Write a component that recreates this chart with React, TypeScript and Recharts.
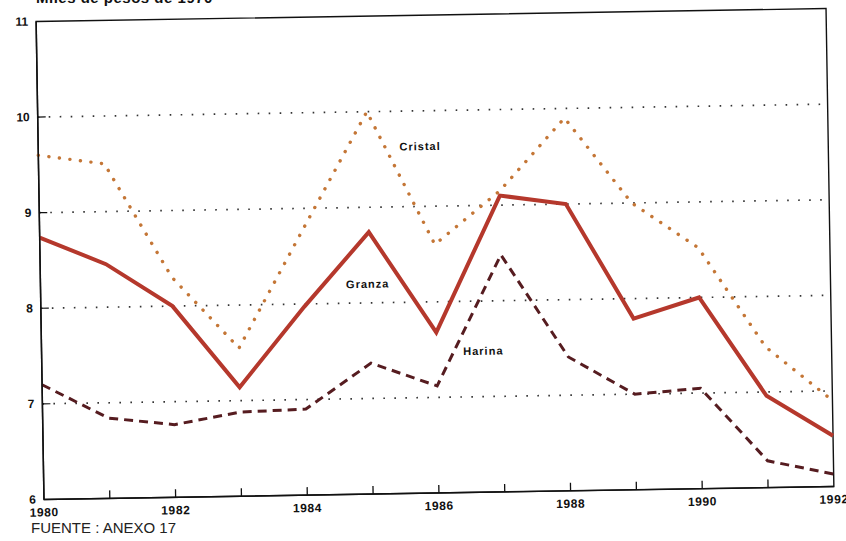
import { LineChart, Line, XAxis, YAxis, CartesianGrid, ReferenceArea, ReferenceDot } from "recharts";

const YEARS = [1980, 1981, 1982, 1983, 1984, 1985, 1986, 1987, 1988, 1989, 1990, 1991, 1992];
const GRANZA = [8.74, 8.45, 8.0, 7.14, 7.97, 8.74, 7.68, 9.1, 9.0, 7.79, 8.0, 6.96, 6.53];
const CRISTAL = [9.6, 9.5, 8.3, 7.55, 8.78, 10.0, 8.6, 9.15, 9.9, 9.0, 8.52, 7.47, 6.9];
const HARINA = [7.2, 6.84, 6.76, 6.88, 6.9, 7.37, 7.12, 8.48, 7.4, 7.0, 7.05, 6.28, 6.13];
const Y_TICKS = [6, 7, 8, 9, 10, 11];
const GRID_VALUES = [7, 8, 9, 10];

// series name labels placed inside the plot (data units)
const SERIES_LABELS = [
  { text: "Cristal", x: 1985.8, y: 9.63 },
  { text: "Granza", x: 1984.97, y: 8.2 },
  { text: "Harina", x: 1986.71, y: 7.48 },
];

const TITLE = "Miles de pesos de 1970";
const SOURCE = "FUENTE : ANEXO 17";

const FONT = "'Liberation Sans', Arial, Helvetica, sans-serif";
const GRANZA_RED = "#b5382c";
const CRISTAL_ORANGE = "#c47636";
const HARINA_DARK = "#561c20";

const data = YEARS.map((year, i) => ({
  year,
  granza: GRANZA[i],
  cristal: CRISTAL[i],
  harina: HARINA[i],
}));

function YearTick(props: any) {
  const { x, y, payload } = props;
  const v = payload.value as number;
  return (
    <g>
      {v !== 1980 && v !== 1992 && <line x1={x} x2={x} y1={y} y2={y - 8} stroke="#111" strokeWidth={1.3} />}
      {v % 2 === 0 && (
        <text
          x={x}
          y={y + 17}
          textAnchor="middle"
          fontFamily={FONT}
          fontSize={12}
          fontWeight={700}
          letterSpacing={0.6}
          fill="#111"
        >
          {v}
        </text>
      )}
    </g>
  );
}

function ValueTick(props: any) {
  const { x, y, payload } = props;
  const v = payload.value as number;
  return (
    <g>
      {v > 6 && v < 11 && <line x1={x} x2={x + 8} y1={y} y2={y} stroke="#111" strokeWidth={1.2} />}
      <text
        x={x - 8}
        y={y + 4}
        textAnchor="end"
        fontFamily={FONT}
        fontSize={12}
        fontWeight={700}
        fill="#111"
      >
        {v}
      </text>
    </g>
  );
}

export default function App() {
  return (
    <div
      style={{
        position: "absolute",
        left: 0,
        top: 0,
        width: 846,
        height: 541,
        overflow: "hidden",
        background: "#fff",
      }}
    >
      <div
        style={{
          position: "absolute",
          left: 36,
          top: -11,
          fontFamily: FONT,
          fontSize: 15,
          fontWeight: 700,
          color: "#111",
          letterSpacing: 0.5,
          whiteSpace: "nowrap",
        }}
      >
        {TITLE}
      </div>
      <div
        style={{
          position: "absolute",
          left: 0,
          top: 0,
          width: 846,
          height: 541,
          transform: "rotate(-0.94deg)",
          transformOrigin: "435px 254px",
        }}
      >
        <LineChart width={846} height={541} data={data} margin={{ top: 15, right: 16, bottom: 18, left: 10 }}>
          <CartesianGrid
            vertical={false}
            horizontalValues={GRID_VALUES}
            stroke="#333"
            strokeWidth={1.7}
            strokeDasharray="1.6 9.4"
          />
          <ReferenceArea x1={1980} x2={1992} y1={6} y2={11} fill="none" stroke="#111" strokeWidth={1.4} />
          <XAxis
            dataKey="year"
            type="number"
            domain={[1980, 1992]}
            ticks={YEARS}
            interval={0}
            height={30}
            tickSize={0}
            tickMargin={0}
            axisLine={{ stroke: "#111", strokeWidth: 1.5 }}
            tick={<YearTick />}
          />
          <YAxis
            type="number"
            domain={[6, 11]}
            ticks={Y_TICKS}
            interval={0}
            width={30}
            tickSize={0}
            tickMargin={0}
            axisLine={{ stroke: "#111", strokeWidth: 1.5 }}
            tick={<ValueTick />}
          />
          <Line
            dataKey="cristal"
            stroke={CRISTAL_ORANGE}
            strokeWidth={3.4}
            strokeDasharray="0.1 10.5"
            strokeLinecap="round"
            dot={false}
            isAnimationActive={false}
          />
          <Line
            dataKey="harina"
            stroke={HARINA_DARK}
            strokeWidth={3}
            strokeDasharray="9 6"
            dot={false}
            isAnimationActive={false}
          />
          <Line
            dataKey="granza"
            stroke={GRANZA_RED}
            strokeWidth={4}
            dot={false}
            isAnimationActive={false}
          />
          {SERIES_LABELS.map((l) => (
            <ReferenceDot
              key={l.text}
              x={l.x}
              y={l.y}
              r={0}
              shape={(p: any) => (
                <text
                  x={p.cx}
                  y={p.cy + 4}
                  textAnchor="middle"
                  fontFamily={FONT}
                  fontSize={11}
                  fontWeight={700}
                  letterSpacing={1}
                  fill="#111"
                >
                  {l.text}
                </text>
              )}
            />
          ))}
        </LineChart>
      </div>
      <div
        style={{
          position: "absolute",
          left: 31,
          top: 519,
          fontFamily: FONT,
          fontSize: 15,
          color: "#222",
          whiteSpace: "nowrap",
        }}
      >
        {SOURCE}
      </div>
    </div>
  );
}
